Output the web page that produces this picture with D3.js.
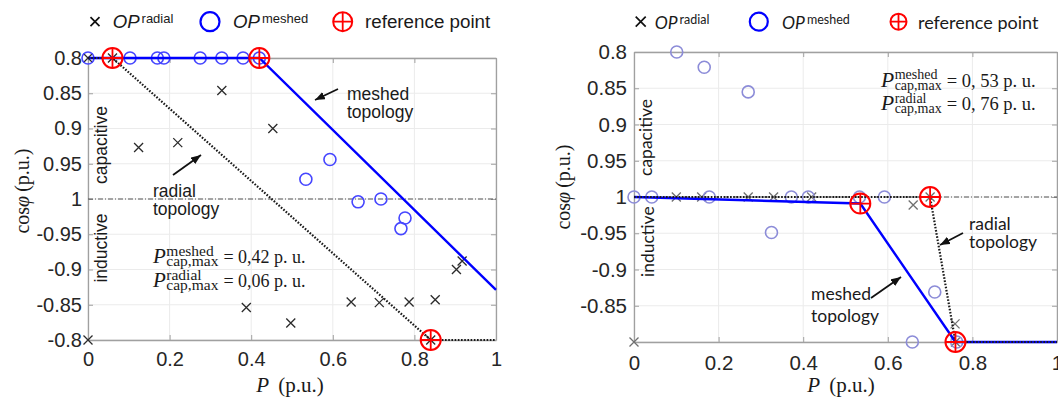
<!DOCTYPE html>
<html>
<head>
<meta charset="utf-8">
<script src="https://cdn.jsdelivr.net/npm/d3@7"></script>
<style>
  body { margin: 0; background: #fff; }
</style>
</head>
<body>
<div id="chart"></div>
<script>

// tick values, the y axis runs capacitive 0.8 -> 1 -> inductive -0.8
var xTicks = [0, 0.2, 0.4, 0.6, 0.8, 1];
var yTicks = [0.8, 0.85, 0.9, 0.95, 1, -0.95, -0.9, -0.85, -0.8];
var yTickLabelsLeft  = ["0.8", "0.85", "0.9", "0.95", "1", "-0.95", "-0.9", "-0.85", "-0.8"];
var yTickLabelsRight = ["0.8", "0.85", "0.9", "0.95", "1", "-0.95", "-0.9", "-0.85", ""];

// left panel
var leftMeshedP   = [0, 0.103, 0.17, 0.186, 0.275, 0.328, 0.38, 0.42, 0.534, 0.593, 0.662, 0.718, 0.767, 0.777];
var leftMeshedCos = [0.8, 0.8, 0.8, 0.8, 0.8, 0.8, 0.8, 0.8, 0.972, 0.944, -0.996, 1, -0.958, -0.973];
var leftRadialP   = [0, 0.06, 0.124, 0.22, 0.328, 0.453, 0, 0.388, 0.497, 0.645, 0.714, 0.787, 0.851, 0.903, 0.917, 0.84];
var leftRadialCos = [0.8, 0.8, 0.927, 0.92, 0.846, 0.9, -0.8, -0.846, -0.824, -0.854, -0.853, -0.854, -0.857, -0.9, -0.912, -0.8];
var leftRefP   = [0.06, 0.42, 0.84];
var leftRefCos = [0.8, 0.8, -0.8];
var leftMeshedLineP   = [0, 0.42, 1];
var leftMeshedLineCos = [0.8, 0.8, -0.871];
var leftRadialLineP   = [0, 0.06, 0.84, 1];
var leftRadialLineCos = [0.8, 0.8, -0.8, -0.8];

// right panel
var rightMeshedP   = [0, 0.042, 0.178, 0.372, 0.412, 0.533, 0.592, 0.101, 0.166, 0.27, 0.325, 0.711, 0.658, 0.763];
var rightMeshedCos = [1, 1, 1, 1, 1, 1, 1, 0.8, 0.821, 0.855, -0.951, -0.869, -0.8, -0.8];
var rightRadialP   = [0.1, 0.16, 0.27, 0.33, 0.42, 0.66, 0.759, 0, 0.70, 0.76];
var rightRadialCos = [1, 1, 1, 1, 1, -0.989, -0.825, -0.8, 1, -0.8];
var rightRefP   = [0.535, 0.70, 0.76];
var rightRefCos = [-0.991, 1, -0.8];
var rightMeshedLineP   = [0, 0.535, 0.76, 1];
var rightMeshedLineCos = [1, -0.991, -0.8, -0.8];
var rightRadialLineP   = [0, 0.70, 0.76, 1];
var rightRadialLineCos = [1, 1, -0.8, -0.8];


var serif = "'Liberation Serif', 'Times New Roman', serif";
var sansL = "'Liberation Sans', Arial, sans-serif";
var sansR = "Lato, 'Open Sans', sans-serif";
var frameColor = "#a0a0a0";
var gridColor = "#ebebeb";

// cos phi -> distance from 1 (positive = capacitive, negative = inductive)
function pos(c) {
  return c > 0 ? 1 - c : -(1 + c);
}

var svg = d3.select("#chart")
  .append("svg")
    .attr("width", 1058)
    .attr("height", 398);

svg.append("defs").append("marker")
    .attr("id", "arrow")
    .attr("viewBox", "0 0 10 8")
    .attr("refX", 10)
    .attr("refY", 4)
    .attr("markerWidth", 10)
    .attr("markerHeight", 8)
    .attr("markerUnits", "userSpaceOnUse")
    .attr("orient", "auto")
  .append("path")
    .attr("d", "M0,0L10,4L0,8z")
    .attr("fill", "#111");

function refMarker(sel, r) {
  sel.append("circle").attr("r", r).attr("fill", "none").attr("stroke", "#ff0000").attr("stroke-width", 2);
  sel.append("path").attr("d", "M" + (-r) + ",0H" + r + "M0," + (-r) + "V" + r)
    .attr("stroke", "#ff0000").attr("stroke-width", 1.8);
}

function drawPanel(c) {
  var g = svg.append("g")
    .attr("transform", "translate(" + c.left + "," + c.top + ")");

  var x = d3.scaleLinear().domain([0, 1]).range([0, c.width]);
  var y = d3.scaleLinear().domain([-0.2, 0.2]).range([c.height, 0]);
  var py = function (v) { return y(pos(v)); };

  // grid
  g.append("g").selectAll("line")
    .data(xTicks).enter().append("line")
      .attr("x1", function (d) { return x(d); })
      .attr("x2", function (d) { return x(d); })
      .attr("y1", 0).attr("y2", c.height)
      .style("stroke", gridColor);
  g.append("g").selectAll("line")
    .data(yTicks).enter().append("line")
      .attr("x1", 0).attr("x2", c.width)
      .attr("y1", function (d) { return py(d); })
      .attr("y2", function (d) { return py(d); })
      .style("stroke", gridColor);

  // axes with inward ticks on every side
  var yVals = yTicks.map(pos);
  var axes = [
    g.append("g").attr("transform", "translate(0," + c.height + ")")
      .call(d3.axisBottom(x).tickValues(xTicks).tickSize(-5).tickSizeOuter(0).tickPadding(c.xPad).tickFormat(d3.format(""))),
    g.append("g")
      .call(d3.axisTop(x).tickValues(xTicks).tickSize(-5).tickSizeOuter(0).tickFormat("")),
    g.append("g")
      .call(d3.axisLeft(y).tickValues(yVals).tickSize(-5).tickSizeOuter(0).tickPadding(c.yPad)
        .tickFormat(function (d, i) { return c.yLabels[i]; })),
    g.append("g").attr("transform", "translate(" + c.width + ",0)")
      .call(d3.axisRight(y).tickValues(yVals).tickSize(-5).tickSizeOuter(0).tickFormat(""))
  ];
  axes.forEach(function (a) {
    a.select(".domain").attr("stroke", frameColor).attr("stroke-width", 1.3);
    a.selectAll(".tick line").attr("stroke", frameColor);
    a.selectAll("text")
      .style("font-family", sansL)
      .style("font-size", c.tickFont + "px")
      .style("fill", "#262626");
  });

  // cos phi = 1 border between capacitive and inductive
  g.append("line")
    .attr("x1", 0).attr("x2", c.width)
    .attr("y1", py(1)).attr("y2", py(1))
    .style("stroke", "#555")
    .style("stroke-width", 1)
    .style("stroke-dasharray", "5,2,1,2");

  var line = d3.line()
    .x(function (d) { return x(d[0]); })
    .y(function (d) { return py(d[1]); });

  // OP markers
  g.append("g").selectAll("path")
    .data(d3.zip(c.radialP, c.radialCos)).enter().append("path")
      .attr("transform", function (d) { return "translate(" + x(d[0]) + "," + py(d[1]) + ")"; })
      .attr("d", "M-4.5,-4.5L4.5,4.5M-4.5,4.5L4.5,-4.5")
      .attr("stroke", c.crossColor)
      .attr("stroke-width", 1.3);

  g.append("g").selectAll("circle")
    .data(d3.zip(c.meshedP, c.meshedCos)).enter().append("circle")
      .attr("cx", function (d) { return x(d[0]); })
      .attr("cy", function (d) { return py(d[1]); })
      .attr("r", 6)
      .attr("fill", "none")
      .attr("stroke", c.circleColor)
      .attr("stroke-width", 1.6);

  // boundary lines
  g.append("path")
    .datum(d3.zip(c.meshedLineP, c.meshedLineCos))
    .attr("d", line)
    .attr("fill", "none")
    .attr("stroke", "#0000ff")
    .attr("stroke-width", 2.4);

  g.append("path")
    .datum(d3.zip(c.radialLineP, c.radialLineCos))
    .attr("d", line)
    .attr("fill", "none")
    .attr("stroke", "#1a1a1a")
    .attr("stroke-width", 2.2)
    .attr("stroke-dasharray", "1.6,1.6");

  // reference points
  g.append("g").selectAll("g")
    .data(d3.zip(c.refP, c.refCos)).enter().append("g")
      .attr("transform", function (d) { return "translate(" + x(d[0]) + "," + py(d[1]) + ")"; })
      .each(function () { refMarker(d3.select(this), 10); });
}

function txt(x, y, s, font, size, opts) {
  opts = opts || {};
  var t = svg.append("text")
    .attr("x", x).attr("y", y)
    .style("font-family", font)
    .style("font-size", size + "px")
    .style("fill", opts.fill || "#1a1a1a")
    .text(s);
  if (opts.italic) t.style("font-style", "italic");
  if (opts.anchor) t.attr("text-anchor", opts.anchor);
  if (opts.rotate) t.attr("transform", "rotate(-90," + x + "," + y + ")");
  return t;
}

function legend(l) {
  svg.append("path")
    .attr("transform", "translate(" + l.crossX + "," + l.cy + ")")
    .attr("d", "M-" + l.cs + ",-" + l.cs + "L" + l.cs + "," + l.cs + "M-" + l.cs + "," + l.cs + "L" + l.cs + ",-" + l.cs)
    .attr("stroke", "#111").attr("stroke-width", 1.7);
  var op1 = txt(l.op1X, l.base, "OP", l.font, l.size, {italic: true});
  txt(l.op1X + op1.node().getComputedTextLength() + 2, l.supBase, "radial", l.font, l.supSize);
  svg.append("circle").attr("cx", l.circX).attr("cy", l.cy).attr("r", l.cr)
    .attr("fill", "none").attr("stroke", "#0000ff").attr("stroke-width", 2.2);
  var op2 = txt(l.op2X, l.base, "OP", l.font, l.size, {italic: true});
  txt(l.op2X + op2.node().getComputedTextLength() + 2, l.supBase, "meshed", l.font, l.supSize);
  refMarker(svg.append("g").attr("transform", "translate(" + l.refX + "," + l.cy + ")"), l.rr);
  txt(l.textX, l.base, "reference point", l.font, l.refSize);
}

// P with stacked super/subscript, then the value
function formula(x, y, sup, rest, big, small) {
  var p = txt(x, y, "P", serif, big + 3, {italic: true});
  var x1 = x + p.node().getComputedTextLength() + 0.5;
  var a = txt(x1, y - 7.5, sup, serif, small);
  var b = txt(x1, y + 3, "cap,max", serif, small);
  var w = Math.max(a.node().getComputedTextLength(), b.node().getComputedTextLength());
  txt(x1 + w + 5, y, rest, serif, big);
}

function axisLabels(xc, xy, yx, yc) {
  var t = svg.append("text")
    .attr("x", xc).attr("y", xy)
    .attr("text-anchor", "middle")
    .style("font-family", serif).style("font-size", "21px").style("fill", "#1a1a1a");
  t.append("tspan").style("font-style", "italic").text("P");
  t.append("tspan").attr("dx", 9).text("(p.u.)");

  var r = svg.append("text")
    .attr("x", yx).attr("y", yc)
    .attr("text-anchor", "middle")
    .attr("transform", "rotate(-90," + yx + "," + yc + ")")
    .style("font-family", serif).style("font-size", "20px").style("fill", "#1a1a1a");
  r.append("tspan").text("cos");
  r.append("tspan").style("font-style", "italic").text("\u03c6");
  r.append("tspan").attr("dx", 4).text("(p.u.)");
}

function annotate(tx, b1, b2, font, size, w1, w2, x1, y1, x2, y2) {
  txt(tx, b1, w1, font, size);
  txt(tx, b2, w2, font, size);
  svg.append("line")
    .attr("x1", x1).attr("y1", y1).attr("x2", x2).attr("y2", y2)
    .attr("stroke", "#111").attr("stroke-width", 1.8)
    .attr("marker-end", "url(#arrow)");
}

// ---- left panel
drawPanel({
  left: 88, top: 58, width: 408, height: 282,
  xPad: 12, yPad: 6, tickFont: 20, yLabels: yTickLabelsLeft,
  crossColor: "#2b2b2b", circleColor: "#4646ff",
  meshedP: leftMeshedP, meshedCos: leftMeshedCos,
  radialP: leftRadialP, radialCos: leftRadialCos,
  refP: leftRefP, refCos: leftRefCos,
  meshedLineP: leftMeshedLineP, meshedLineCos: leftMeshedLineCos,
  radialLineP: leftRadialLineP, radialLineCos: leftRadialLineCos
});

legend({
  cy: 21.7, base: 28.3, supBase: 22.6, font: sansL, size: 18.6, supSize: 13, refSize: 18.8,
  crossX: 95, cs: 4.5, op1X: 112.7, circX: 210, cr: 9.5, op2X: 233, refX: 342.7, rr: 9.5, textX: 365
});

axisLabels(290, 392, 29, 191);
txt(107, 145, "capacitive", sansL, 17.5, {anchor: "middle", rotate: true});
txt(107, 248, "inductive", sansL, 17.5, {anchor: "middle", rotate: true});
annotate(347, 99.5, 117.5, sansL, 17.5, "meshed", "topology", 338, 89, 315, 100);
annotate(153, 196.5, 214.5, sansL, 17.5, "radial", "topology", 173, 175, 201, 155);
formula(153, 263, "meshed", "= 0,42 p. u.", 18, 15.5);
formula(153, 287, "radial", "= 0,06 p. u.", 18, 15.5);

// ---- right panel
drawPanel({
  left: 634, top: 52, width: 423, height: 290,
  xPad: 13, yPad: 7, tickFont: 20.5, yLabels: yTickLabelsRight,
  crossColor: "#707070", circleColor: "#8c8cd8",
  meshedP: rightMeshedP, meshedCos: rightMeshedCos,
  radialP: rightRadialP, radialCos: rightRadialCos,
  refP: rightRefP, refCos: rightRefCos,
  meshedLineP: rightMeshedLineP, meshedLineCos: rightMeshedLineCos,
  radialLineP: rightRadialLineP, radialLineCos: rightRadialLineCos
});

legend({
  cy: 21.7, base: 28.7, supBase: 23.5, font: sansR, size: 17.5, supSize: 12.5, refSize: 18,
  crossX: 640.7, cs: 5, op1X: 654.7, circX: 758.8, cr: 9, op2X: 782, refX: 898.5, rr: 8, textX: 918
});

axisLabels(841, 392, 570, 187);
txt(652, 137.5, "capacitive", sansR, 17.5, {anchor: "middle", rotate: true});
txt(654, 241.7, "inductive", sansR, 17.5, {anchor: "middle", rotate: true});
annotate(969, 230, 248, sansR, 17.5, "radial", "topology", 963, 233, 940, 245);
annotate(811, 300, 321.5, sansR, 17.5, "meshed", "topology", 871, 298, 901, 277);
formula(881, 86.5, "meshed", "= 0, 53 p. u.", 18.5, 14);
formula(881, 110, "radial", "= 0, 76 p. u.", 18.5, 14);

</script>
</body>
</html>
